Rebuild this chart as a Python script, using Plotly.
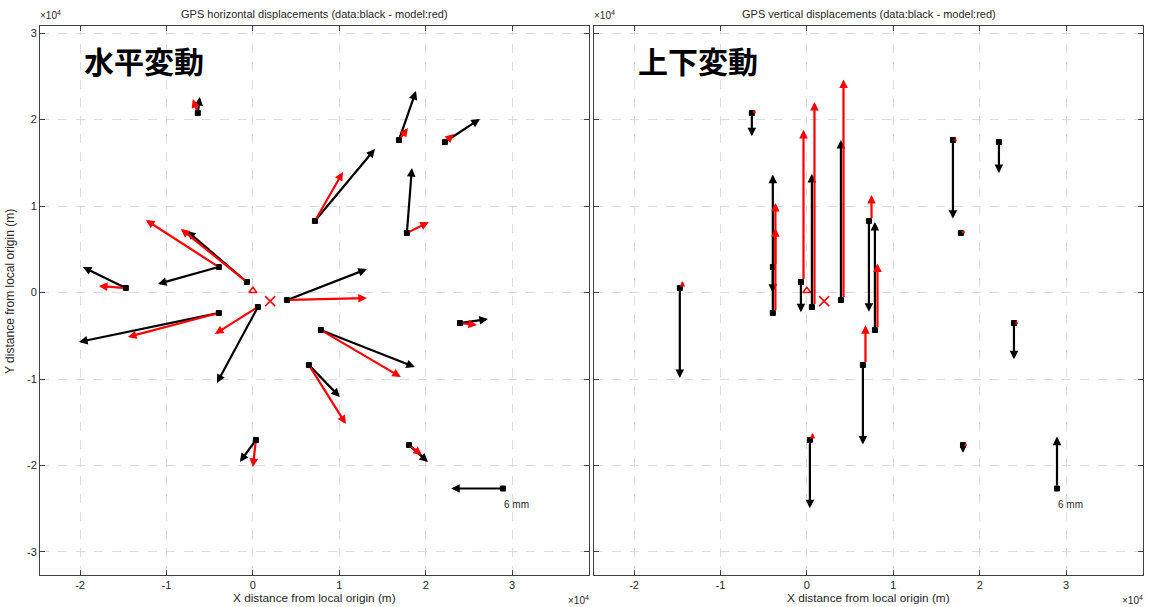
import math
import plotly.graph_objects as go

# ---------------- data ----------------
station_x_m = [-6370, 16900, 22220, 7180, 17820, 3940, 23960, 7870, 6480, 18060,
               -690, -3940, -14700, 580, -3940, 350]
station_y_m = [20750, 17630, 17400, 8270, 6880, -870, -3530, -4340, -8380, -17630,
               1210, 2950, 520, -1680, -2370, -17050]
obs_east_mm = [0.23, 1.97, 4.05, 6.94, 0.58, 9.25, 3.24, 10.87, 3.58, 2.20,
               -6.94, -7.05, -4.97, -4.74, -16.18, -1.85]
obs_north_mm = [1.85, 5.66, 2.66, 8.32, 7.51, 3.58, 0.46, -4.28, -3.70, -1.97,
                5.90, -1.97, 2.43, -8.79, -3.35, -2.54]
mod_east_mm = [-0.58, 1.04, 1.04, 3.24, 2.54, 9.25, 1.97, 9.25, 4.28, 1.50,
               -7.63, -8.44, -3.12, -4.97, -10.52, -0.35]
mod_north_mm = [1.62, 1.39, 0.92, 5.66, 1.27, 0.23, -0.23, -5.43, -6.82, -1.16,
                6.13, 5.43, 0.23, -3.12, -2.77, -3.12]
obs_up_mm = [-2.7, -9.1, -3.6, -10.5, -0.3, 18.5, -4.2, 12.5, -9.2, -0.9,
             -3.5, -3.0, -10.4, 15.4, 16.0, -7.9]
mod_up_mm = [0.35, 0.25, 0.15, 3.0, 0.35, 25.5, 0.25, 7.7, 4.6, 0.25,
             17.6, 7.4, 0.8, 23.7, 9.8, 0.8]

scale_x_m = 28940
scale_y_m = -22660
scale_len_mm = 6
scale_label = "6 mm"

ref_point = (0, 200)          # red triangle
source_point = (2000, -1000)  # red cross

x_ticks = [-20000, -10000, 0, 10000, 20000, 30000]
x_ticktext = ["-2", "-1", "0", "1", "2", "3"]
y_ticks = [-30000, -20000, -10000, 0, 10000, 20000, 30000]
y_ticktext = ["-3", "-2", "-1", "0", "1", "2", "3"]

titles = ["GPS horizontal displacements (data:black - model:red)",
          "GPS vertical displacements (data:black - model:red)"]
panel_labels = ["水平変動", "上下変動"]

# ---------------- style ----------------
M_PER_MM = 1000.0       # arrow scale: 1 mm -> 1000 m
RED_V_OFFSET = 300.0    # horizontal offset of red vertical arrows (m)
X_RANGE = [-24630, 38890]
Y_RANGE = [-32660, 30810]
W, H = 1151, 607
PX_PER_M = 86.5 / 10000.0
FONT = "Liberation Sans, Arial, sans-serif"
TXT = "#262626"

fig = go.Figure()

annotations = []


def add_arrow(xr, yr, x0, y0, x1, y1, color, width):
    L = math.hypot(x1 - x0, y1 - y0) * PX_PER_M
    size = max(0.3, min(0.78, L / 14.0))
    annotations.append(dict(
        x=x1, y=y1, ax=x0, ay=y0, xref=xr, yref=yr, axref=xr, ayref=yr,
        text="", showarrow=True, arrowhead=2, arrowsize=size,
        arrowwidth=width, arrowcolor=color, startstandoff=2.5 if L > 6 else 0,
        font=dict(size=1), borderpad=0))


for p, (xr, yr) in enumerate([("x", "y"), ("x2", "y2")]):
    # station squares
    fig.add_trace(go.Scatter(
        x=station_x_m + [scale_x_m], y=station_y_m + [scale_y_m],
        mode="markers", xaxis=xr, yaxis=yr, showlegend=False,
        marker=dict(symbol="square", size=5, color="black",
                    line=dict(color="black", width=1))))
    # reference triangle and source cross
    fig.add_trace(go.Scatter(
        x=[ref_point[0]], y=[ref_point[1]], mode="markers", xaxis=xr, yaxis=yr,
        showlegend=False,
        marker=dict(symbol="triangle-up-open", size=7, color="red",
                    line=dict(color="red", width=1.5))))
    fig.add_trace(go.Scatter(
        x=[source_point[0]], y=[source_point[1]], mode="markers", xaxis=xr, yaxis=yr,
        showlegend=False,
        marker=dict(symbol="x-thin-open", size=10, color="red",
                    line=dict(color="red", width=1.5))))

# horizontal panel arrows
for i in range(len(station_x_m)):
    x0, y0 = station_x_m[i], station_y_m[i]
    add_arrow("x", "y", x0, y0, x0 + obs_east_mm[i] * M_PER_MM,
              y0 + obs_north_mm[i] * M_PER_MM, "black", 2.2)
for i in range(len(station_x_m)):
    x0, y0 = station_x_m[i], station_y_m[i]
    add_arrow("x", "y", x0, y0, x0 + mod_east_mm[i] * M_PER_MM,
              y0 + mod_north_mm[i] * M_PER_MM, "red", 2.2)
add_arrow("x", "y", scale_x_m, scale_y_m,
          scale_x_m - scale_len_mm * M_PER_MM, scale_y_m, "black", 2.2)

# vertical panel arrows
for i in range(len(station_x_m)):
    x0, y0 = station_x_m[i], station_y_m[i]
    add_arrow("x2", "y2", x0, y0, x0, y0 + obs_up_mm[i] * M_PER_MM, "black", 2.2)
for i in range(len(station_x_m)):
    x0, y0 = station_x_m[i] + RED_V_OFFSET, station_y_m[i]
    add_arrow("x2", "y2", x0, y0, x0, y0 + mod_up_mm[i] * M_PER_MM, "red", 2.2)
add_arrow("x2", "y2", scale_x_m, scale_y_m,
          scale_x_m, scale_y_m + scale_len_mm * M_PER_MM, "black", 2.2)

# scale labels
for xr, yr in [("x", "y"), ("x2", "y2")]:
    annotations.append(dict(x=scale_x_m, y=scale_y_m, xref=xr, yref=yr,
                            text=scale_label, showarrow=False, xanchor="left",
                            yanchor="top", xshift=-1, yshift=-8,
                            font=dict(family=FONT, size=10, color=TXT)))

# panel decorations
doms = [[40 / W, 589 / W], [594 / W, 1143 / W]]
for p in range(2):
    d = doms[p]
    cx = (d[0] + d[1]) / 2
    annotations.append(dict(x=cx, y=1 - 14 / H, xref="paper", yref="paper",
                            text=titles[p], showarrow=False,
                            xanchor="center", yanchor="middle",
                            font=dict(family=FONT, size=11, color=TXT)))
    annotations.append(dict(x=d[0] - 2 / W, y=1 - 15 / H, xref="paper", yref="paper",
                            text="×10<sup>4</sup>", showarrow=False,
                            xanchor="left", yanchor="middle",
                            font=dict(family=FONT, size=10, color=TXT)))
    annotations.append(dict(x=d[1] + 2 / W, y=1 - 600 / H, xref="paper", yref="paper",
                            text="×10<sup>4</sup>", showarrow=False,
                            xanchor="right", yanchor="middle",
                            font=dict(family=FONT, size=10, color=TXT)))
    annotations.append(dict(x=cx, y=1 - 598 / H, xref="paper", yref="paper",
                            text="X distance from local origin (m)", showarrow=False,
                            xanchor="center", yanchor="middle",
                            font=dict(family=FONT, size=11.8, color=TXT)))
    annotations.append(dict(x=d[0] + 42 / W, y=1 - 60 / H, xref="paper", yref="paper",
                            text="<b>" + panel_labels[p] + "</b>", showarrow=False,
                            xanchor="left", yanchor="middle",
                            font=dict(family="Noto Sans CJK JP", size=30, color="black")))

annotations.append(dict(x=10 / W, y=1 - 292 / H, xref="paper", yref="paper",
                        text="Y distance from local origin (m)", showarrow=False,
                        textangle=-90, xanchor="center", yanchor="middle",
                        font=dict(family=FONT, size=12, color=TXT)))

axis_common = dict(showgrid=True, gridcolor="#dcdcdc", griddash="dash", gridwidth=1,
                   zeroline=False, showline=True, linecolor="#404040", linewidth=1,
                   mirror="ticks", ticks="inside", ticklen=5, tickcolor="#404040",
                   tickfont=dict(family=FONT, size=11, color=TXT))

fig.update_layout(
    width=W, height=H, margin=dict(l=0, r=0, t=0, b=0),
    paper_bgcolor="white", plot_bgcolor="white", showlegend=False,
    xaxis=dict(domain=doms[0], range=X_RANGE, tickvals=x_ticks, ticktext=x_ticktext,
               anchor="y", **axis_common),
    yaxis=dict(domain=[1 - 575 / H, 1 - 26 / H], range=Y_RANGE, tickvals=y_ticks,
               ticktext=y_ticktext, anchor="x", **axis_common),
    xaxis2=dict(domain=doms[1], range=X_RANGE, tickvals=x_ticks, ticktext=x_ticktext,
                anchor="y2", **axis_common),
    yaxis2=dict(domain=[1 - 575 / H, 1 - 26 / H], range=Y_RANGE, tickvals=y_ticks,
                ticktext=y_ticktext, anchor="x2", showticklabels=False,
                **{k: v for k, v in axis_common.items() if k != "tickfont"}),
    annotations=annotations,
)

fig.write_html("out.html")
